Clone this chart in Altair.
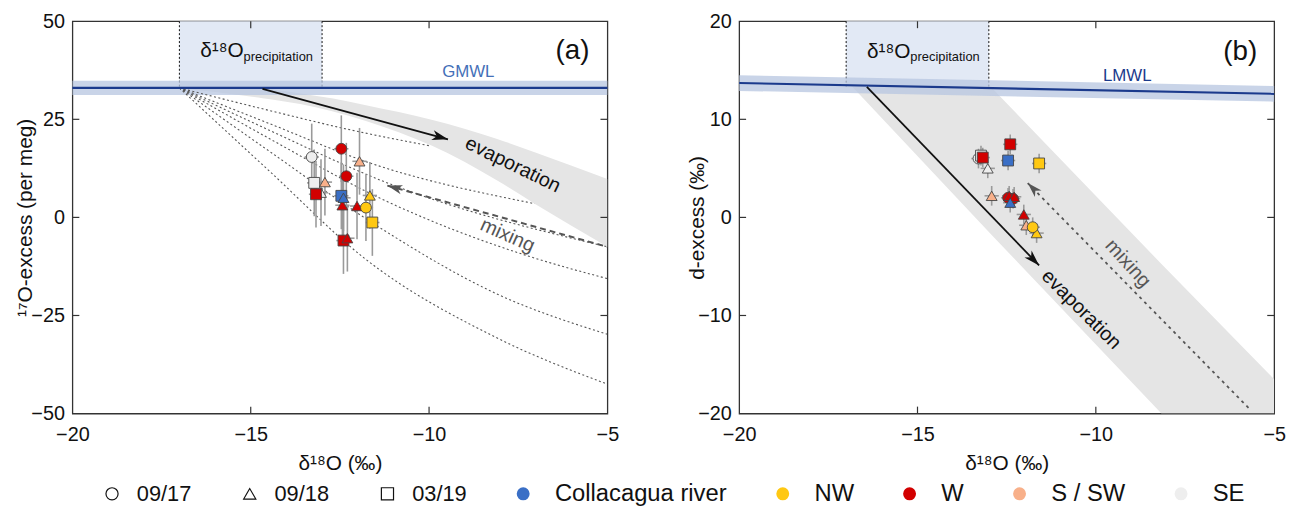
import altair as alt
import pandas as pd

FONT = "Liberation Sans"
W, H = 540, 396

# ---------------- sample data ----------------
region = ["SE", "SE", "SE", "S / SW", "S / SW", "W", "W", "W", "W", "W", "W", "W",
          "Collacagua river", "Collacagua river", "NW", "NW", "NW"]
campaign = ["09/17", "03/19", "09/18", "09/18", "09/18", "03/19", "03/19", "09/17", "09/17",
            "09/18", "09/18", "09/18", "03/19", "09/18", "09/18", "09/17", "03/19"]
d18o = [-13.29, -13.22, -13.03, -12.92, -11.95, -13.17, -12.40, -12.46, -12.32,
        -12.43, -12.02, -12.29, -12.46, -12.40, -11.66, -11.77, -11.59]
o17_excess = [15.4, 8.8, 6.3, 9.0, 14.3, 5.9, -5.9, 17.5, 10.5,
              3.1, 2.9, -5.3, 5.5, 5.0, 5.6, 2.5, -1.3]
d_excess = [6.0, 6.3, 5.0, 2.2, -0.8, 6.1, 7.45, 2.0, 1.9,
            2.2, 0.3, 2.1, 5.8, 1.5, -1.6, -1.0, 5.5]
d18o_err = [0.2, 0.2, 0.2, 0.2, 0.2, 0.2, 0.2, 0.2, 0.2, 0.2, 0.2, 0.2, 0.2, 0.2, 0.2, 0.2, 0.2]
o17_err = [8.5, 8.5, 8.5, 8.5, 8.5, 8.5, 8.5, 8.5, 8.5, 8.5, 8.5, 8.5, 8.5, 8.5, 8.5, 8.5, 8.5]
dex_err = [1.0, 1.0, 1.0, 1.0, 1.0, 1.0, 1.0, 1.0, 1.0, 1.0, 1.0, 1.0, 1.0, 1.0, 1.0, 1.0, 1.0]

regions_order = ["Collacagua river", "NW", "W", "S / SW", "SE"]
region_colors = ["#3a6fc6", "#ffc812", "#d20000", "#f8b08a", "#eeeeee"]
dates_order = ["09/17", "09/18", "03/19"]
date_shapes = ["circle", "triangle-up", "square"]

# ---------------- axes ----------------
x_labels = [-20, -15, -10, -5]
x_inner_ticks = [-15, -10]
ya_labels = [-50, -25, 0, 25, 50]
ya_inner_ticks = [-25, 0, 25]
yb_labels = [-20, -10, 0, 10, 20]
yb_inner_ticks = [-10, 0, 10]

# ---------------- panel (a) lines ----------------
gmwl_x = [-20, -5]
gmwl_y = [33.0, 33.0]
gmwl_half = 1.8

evap_a_x = [-17.0, -14.67, -13.61, -12.69, -11.77, -9.93, -8.09, -7.04, -5.0]
evap_a_up = [33.0, 32.75, 31.6, 30.3, 28.6, 24.9, 20.0, 16.6, 9.8]
evap_a_lo = [33.0, 30.4, 28.9, 27.0, 24.6, 18.3, 9.4, 3.5, -7.5]

mix_id = ["a1"] * 4 + ["a2"] * 4 + ["b"] * 4 + ["c"] * 5 + ["d"] * 5 + ["e"] * 5
mix_x = [-17, -14.5, -12.2, -9.95,
         -17, -14.5, -11.7, -7.04,
         -17, -14.5, -11.2, -5.0,
         -17, -14.5, -11.4, -7.17, -5.0,
         -17, -14.5, -11.4, -8.1, -5.0,
         -17, -14.5, -11.8, -8.1, -5.0]
mix_y = [33, 27.3, 22.3, 18.2,
         33, 24.0, 14.0, 3.5,
         33, 22.3, 8.9, -7.5,
         33, 20.2, 5.0, -10.0, -15.6,
         33, 17.0, -2.5, -19.5, -29.8,
         33, 12.0, -10.5, -30.7, -42.5]

evap_arrow_a_x = [-14.67, -9.47]
evap_arrow_a_y = [32.75, 19.9]
mix_arrow_a_x = [-5.0, -11.17]
mix_arrow_a_y = [-7.5, 8.1]

# ---------------- panel (b) lines ----------------
lmwl_x = [-20, -5]
lmwl_y = [13.7, 12.6]
lmwl_half = 0.8

evap_b_x = [-16.86, -12.9, -8.16, -5.0]
evap_b_up = [13.45, 13.15, -4.75, -16.5]
evap_b_lo = [13.45, -1.86, -20.0, -20.0]

evap_arrow_b_x = [-16.42, -11.59]
evap_arrow_b_y = [13.3, -4.9]
mix_arrow_b_x = [-5.67, -11.91]
mix_arrow_b_y = [-19.6, 3.5]

precip_x = [-17, -13]

ARROW = "M0,0 L-2,-0.62 L-1.45,0 L-2,0.62 Z"

samples = pd.DataFrame({
    "region": region, "campaign": campaign, "d18o": d18o,
    "o17": o17_excess, "dex": d_excess,
    "d18o_err": d18o_err, "o17_err": o17_err, "dex_err": dex_err,
})

xs = alt.Scale(domain=[-20, -5], nice=False, zero=False)
XAXIS = alt.Axis(values=x_labels, title="δ¹⁸O (‰)", ticks=False, domain=False, grid=False,
                 labelPadding=11, labelOverlap=False, labelFlush=False,
                 titleY=50, titleBaseline="middle")


def build_panel(ycol, yerr, ydom, ylabels, yinner, ytitle, title_x,
                mwl_x, mwl_y, mwl_half, mwl_name, mwl_color, mwl_text_pos,
                band_x, band_up, band_lo, band_interp, mix_lines,
                evap_arrow, mix_arrow, evap_angle, mix_angle, mix_dash, mix_width,
                evap_text, mix_text, panel_name, panel_pos, precip_pos, legend):
    ys = alt.Scale(domain=ydom, nice=False, zero=False)
    yaxis = alt.Axis(values=ylabels, title=ytitle, ticks=False, domain=False, grid=False,
                     labelPadding=8, labelOverlap=False, labelFlush=False,
                     titleX=title_x, titleY=H / 2, titleBaseline="middle", titleAlign="center",
                     titleAngle=-90)

    def X(field):
        return alt.X(field, type="quantitative", scale=xs, axis=XAXIS)

    def Y(field):
        return alt.Y(field, type="quantitative", scale=ys, axis=yaxis)

    layers = []

    # precipitation box
    box_bottom = mwl_y[0] + (mwl_y[1] - mwl_y[0]) * (5 / 15)
    box = pd.DataFrame({"x": [precip_x[0]], "x2": [precip_x[1]],
                        "y": [ydom[1]], "y2": [box_bottom]})
    layers.append(alt.Chart(box).mark_rect(color="#e2e9f5").encode(
        x=X("x"), x2="x2", y=Y("y"), y2="y2"))
    borders = pd.DataFrame({"x": precip_x, "y": [ydom[1]] * 2, "y2": [box_bottom] * 2})
    layers.append(alt.Chart(borders).mark_rule(color="#111", strokeDash=[2, 2], strokeWidth=1).encode(
        x=X("x"), y=Y("y"), y2="y2"))

    # evaporation band
    band = pd.DataFrame({"x": band_x, "up": band_up, "lo": band_lo})
    layers.append(alt.Chart(band).mark_area(color="#e5e5e5", clip=True, interpolate=band_interp).encode(
        x=X("x"), y=Y("up"), y2="lo"))

    # meteoric water line band
    mwl = pd.DataFrame({"x": mwl_x, "y": mwl_y,
                        "lo": [v - mwl_half for v in mwl_y], "hi": [v + mwl_half for v in mwl_y]})
    layers.append(alt.Chart(mwl).mark_area(color="#b7c6e0", opacity=0.75).encode(
        x=X("x"), y=Y("hi"), y2="lo"))

    # mixing lines (dotted)
    if mix_lines is not None:
        layers.append(alt.Chart(mix_lines).mark_line(
            color="#555", strokeDash=[2, 2.5], strokeWidth=1.1, interpolate="monotone", clip=True).encode(
            x=X("x"), y=Y("y"), detail="id:N", order="n:Q"))

    layers.append(alt.Chart(mwl).mark_line(color="#1b3a8c", strokeWidth=2.2).encode(
        x=X("x"), y=Y("y")))

    # evaporation arrow
    ea = pd.DataFrame({"x": evap_arrow[0], "y": evap_arrow[1]})
    layers.append(alt.Chart(ea).mark_line(color="#111", strokeWidth=1.8).encode(
        x=X("x"), y=Y("y")))
    layers.append(alt.Chart(ea.iloc[[1]]).mark_point(
        shape=ARROW, filled=True, color="#111", size=260, angle=evap_angle, opacity=1).encode(
        x=X("x"), y=Y("y")))

    # mixing arrow
    ma = pd.DataFrame({"x": mix_arrow[0], "y": mix_arrow[1]})
    layers.append(alt.Chart(ma).mark_line(color="#555", strokeWidth=mix_width, strokeDash=mix_dash).encode(
        x=X("x"), y=Y("y")))
    layers.append(alt.Chart(ma.iloc[[1]]).mark_point(
        shape=ARROW, filled=True, color="#555", size=230, angle=mix_angle, opacity=1).encode(
        x=X("x"), y=Y("y")))

    # error bars
    base = alt.Chart(samples).transform_calculate(
        xlo="datum.d18o - datum.d18o_err", xhi="datum.d18o + datum.d18o_err",
        ylo=f"datum.{ycol} - datum.{yerr}", yhi=f"datum.{ycol} + datum.{yerr}")
    layers.append(base.mark_rule(color="#9a9a9a", strokeWidth=1.6).encode(
        x=X("d18o"), y=Y("ylo"), y2="yhi"))
    layers.append(base.mark_rule(color="#9a9a9a", strokeWidth=1.6).encode(
        x=X("xlo"), x2="xhi", y=Y(ycol)))

    # points
    if legend:
        fill_leg = alt.Legend(title=None, orient="none", legendX=443, legendY=465,
                              direction="horizontal", symbolType="circle", symbolSize=170,
                              symbolStrokeWidth=0, labelFontSize=24, labelFont=FONT,
                              labelOffset=20, columnPadding=44, padding=0, labelLimit=400)
        shape_leg = alt.Legend(title=None, orient="none", legendX=29, legendY=466,
                               direction="horizontal", symbolSize=150, symbolFillColor="white",
                               symbolStrokeColor="#111", symbolStrokeWidth=1.2,
                               labelFontSize=22, labelFont=FONT, labelOffset=14,
                               columnPadding=47, padding=0, labelLimit=400)
    else:
        fill_leg = None
        shape_leg = None
    layers.append(base.mark_point(filled=True, size=120, stroke="#444", strokeWidth=0.9, opacity=1).encode(
        x=X("d18o"), y=Y(ycol),
        fill=alt.Fill("region:N", scale=alt.Scale(domain=regions_order, range=region_colors),
                      legend=fill_leg),
        shape=alt.Shape("campaign:N", scale=alt.Scale(domain=dates_order, range=date_shapes),
                        legend=shape_leg),
    ))

    # texts
    def txt(x, y, s, size, angle=0, color="#111", align="center", baseline="middle"):
        d = pd.DataFrame({"x": [x], "y": [y], "t": [s]})
        return alt.Chart(d).mark_text(font=FONT, fontSize=size, angle=angle, color=color,
                                      align=align, baseline=baseline).encode(
            x=X("x"), y=Y("y"), text="t:N")

    layers.append(txt(evap_text[0], evap_text[1], "evaporation", 20, evap_text[2]))
    layers.append(txt(mix_text[0], mix_text[1], "mixing", 20, mix_text[2], color="#555"))
    layers.append(txt(mwl_text_pos[0], mwl_text_pos[1], mwl_name, 17, 0, color=mwl_color))
    layers.append(txt(panel_pos[0], panel_pos[1], panel_name, 28))
    layers.append(txt(precip_pos[0], precip_pos[1], "δ¹⁸O", 21, 0, align="right"))
    layers.append(txt(precip_pos[0], precip_pos[2], "precipitation", 13, 0, align="left"))

    # inward ticks on all four sides
    xt = pd.DataFrame({"v": x_inner_ticks})
    yt = pd.DataFrame({"v": yinner})
    tick_style = dict(color="#333", strokeWidth=1.2)
    layers.append(alt.Chart(xt).mark_rule(**tick_style).encode(
        x=X("v"), y=alt.value(0), y2=alt.value(7)))
    layers.append(alt.Chart(xt).mark_rule(**tick_style).encode(
        x=X("v"), y=alt.value(H), y2=alt.value(H - 7)))
    layers.append(alt.Chart(yt).mark_rule(**tick_style).encode(
        y=Y("v"), x=alt.value(0), x2=alt.value(7)))
    layers.append(alt.Chart(yt).mark_rule(**tick_style).encode(
        y=Y("v"), x=alt.value(W), x2=alt.value(W - 7)))

    return alt.layer(*layers).properties(width=W, height=H)


mix_df = pd.DataFrame({"id": mix_id, "x": mix_x, "y": mix_y, "n": list(range(len(mix_x)))})

panel_a = build_panel(
    "o17", "o17_err", [-50, 50], ya_labels, ya_inner_ticks, "¹⁷O-excess (per meg)", -47,
    gmwl_x, gmwl_y, gmwl_half, "GMWL", "#4470b8", (-8.9, 37.1),
    evap_a_x, evap_a_up, evap_a_lo, "monotone", mix_df,
    (evap_arrow_a_x, evap_arrow_a_y), (mix_arrow_a_x, mix_arrow_a_y), 15.2, 195.6, [6, 4], 2.0,
    (-7.65, 13.4, 26), (-7.8, -4.6, 24), "(a)", (-5.98, 42.4), (-15.2, 42.4, 41.0), True)

panel_b = build_panel(
    "dex", "dex_err", [-20, 20], yb_labels, yb_inner_ticks, "d-excess (‰)", -42,
    lmwl_x, lmwl_y, lmwl_half, "LMWL", "#1b3a8c", (-9.12, 14.4),
    evap_b_x, evap_b_up, evap_b_lo, "linear", None,
    (evap_arrow_b_x, evap_arrow_b_y), (mix_arrow_b_x, mix_arrow_b_y), 46.0, 225.5, [3, 4], 1.8,
    (-10.41, -9.4, 45), (-9.1, -4.7, 48), "(b)", (-5.95, 16.9), (-15.2, 16.9, 16.35), False)

chart = alt.hconcat(panel_a, panel_b, spacing=66).resolve_scale(
    fill="shared", shape="shared").resolve_legend(fill="shared", shape="shared").properties(
    padding={"left": 6, "top": 0, "right": 5, "bottom": 5}
).configure_axis(
    labelFont=FONT, titleFont=FONT, labelFontSize=20, titleFontSize=21,
    labelColor="#111", titleColor="#111", titleFontWeight="normal"
).configure_view(stroke="#333", strokeWidth=1.3).configure_legend(
    labelColor="#111"
)

chart.save("out.html", embed_options={"renderer": "svg", "actions": False})
